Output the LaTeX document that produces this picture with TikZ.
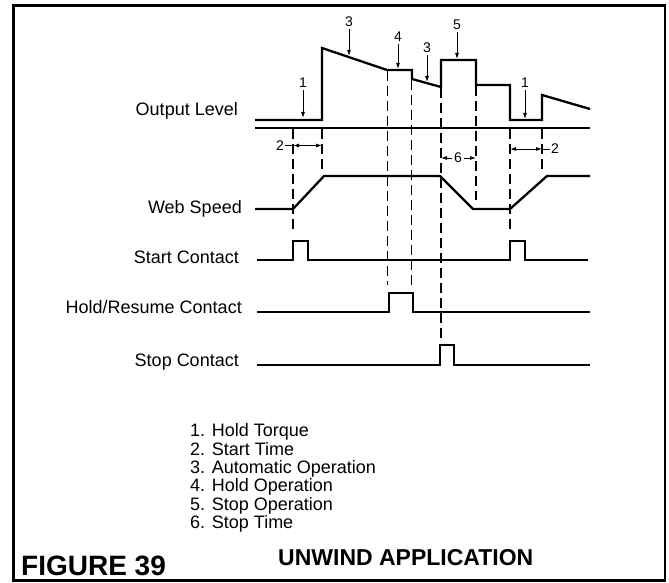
\documentclass[tikz,border=0pt]{standalone}
\usepackage{fontspec}
\setmainfont{Liberation Sans}
\usepackage{tikz}
\usetikzlibrary{arrows.meta,positioning}

\begin{document}
\begin{tikzpicture}[x=1pt, y=-1pt,
  sinal/.style={line width=2.3pt, line join=miter},
  guia/.style={line width=1.1pt, dash pattern=on 10pt off 5pt},
  seta/.style={-{Latex[length=6pt,width=4pt]}, line width=0.9pt},
  cota/.style={{Latex[length=6pt,width=4pt]}-{Latex[length=6pt,width=4pt]}, line width=0.9pt},
  rotulo/.style={anchor=base east, inner sep=0pt, font=\fontsize{18}{18}\selectfont},
  num/.style={inner sep=2pt, font=\fontsize{14}{14}\selectfont}]
  \useasboundingbox (0,0) rectangle (669,583);
  \draw[line width=2.7pt] (13.3,5.7) rectangle (665,580.5);
  % Rótulos
  \node[rotulo] (saida) at (238,116) {Output Level};
  \node[rotulo] (veloc) at (242,213) {Web Speed};
  \node[rotulo] (partida) at (239,263) {Start Contact};
  \node[rotulo] (retem) at (242,313) {Hold/Resume Contact};
  \node[rotulo] (parada) at (239,366.5) {Stop Contact};
  % Nível de saída
  \draw[sinal] (255,120) -- (322,120) -- (322,48) -- (387,70) -- (412,70) -- (412,79) -- (441,87) -- (441,60) -- (476,60) -- (476,85) -- (510,85) -- (510,120) -- (542,120) -- (542,95) -- (590,109);
  \draw[sinal] (255,128) -- (590,128);
  % Velocidade e contatos
  \draw[sinal] (255,209) -- (293,209) -- (324,176) -- (440,176) -- (473,209) -- (510,209) -- (547,176) -- (590,176);
  \draw[sinal] (257,260) -- (293,260) -- (293,241) -- (308,241) -- (308,260) -- (510,260) -- (510,241) -- (525,241) -- (525,260) -- (588,260);
  \draw[sinal] (257,312) -- (389,312) -- (389,293) -- (413,293) -- (413,312) -- (590,312);
  \draw[sinal] (257,365) -- (440,365) -- (440,345) -- (454,345) -- (454,365) -- (590,365);
  % Linhas tracejadas
  \draw[guia] (293,129) -- (293,230);
  \draw[guia] (322,129) -- (322,173);
  \draw[guia] (387.5,71) -- (387.5,285);
  \draw[guia] (411.5,80) -- (411.5,285);
  \draw[guia] (441,88) -- (441,340);
  \draw[guia] (476,86) -- (476,200);
  \draw[guia] (510,129) -- (510,232);
  \draw[guia] (542,129) -- (542,173);
  % Números e setas
  \node[num] (n1a) at (303,82.5) {1};
  \draw[seta] (n1a.south) -- (303,118);
  \node[num] (n3a) at (349,21.7) {3};
  \draw[seta] (n3a.south) -- (349,56);
  \node[num] (n4) at (398,37) {4};
  \draw[seta] (n4.south) -- (398,69);
  \node[num] (n3b) at (427,47.5) {3};
  \draw[seta] (n3b.south) -- (427,82);
  \node[num] (n5) at (457,25) {5};
  \draw[seta] (n5.south) -- (457,59);
  \node[num] (n1b) at (525,83) {1};
  \draw[seta] (n1b.south) -- (525,119);
  % Cotas
  \node[num, inner sep=1pt] (c2a) at (280,145.5) {2};
  \draw[line width=0.9pt] (c2a.east) -- (293,145.5);
  \draw[cota] (293,145.5) -- (322,145.5);
  \node[num, inner sep=1pt] (c2b) at (555,149) {2};
  \draw[cota] (510,149) -- (542,149);
  \draw[line width=0.9pt] (542,149) -- (c2b.west);
  \node[num] (c6) at (458,158) {6};
  \draw[seta] (c6.west) -- (441,158);
  \draw[seta] (c6.east) -- (476,158);
  % Legenda
  \node[anchor=north west, align=left, inner sep=0pt, font=\fontsize{18}{18.3}\selectfont] (legenda) at (190,423.6) {1. Hold Torque\\2. Start Time\\3. Automatic Operation\\4. Hold Operation\\5. Stop Operation\\6. Stop Time};
  \node[anchor=base west, inner sep=0pt, font=\fontsize{28}{28}\selectfont\bfseries] (figura) at (21,575) {FIGURE 39};
  \node[anchor=base west, inner sep=0pt, font=\fontsize{23}{23}\selectfont\bfseries] (titulo) at (278,565) {UNWIND APPLICATION};
\end{tikzpicture}
\end{document}
